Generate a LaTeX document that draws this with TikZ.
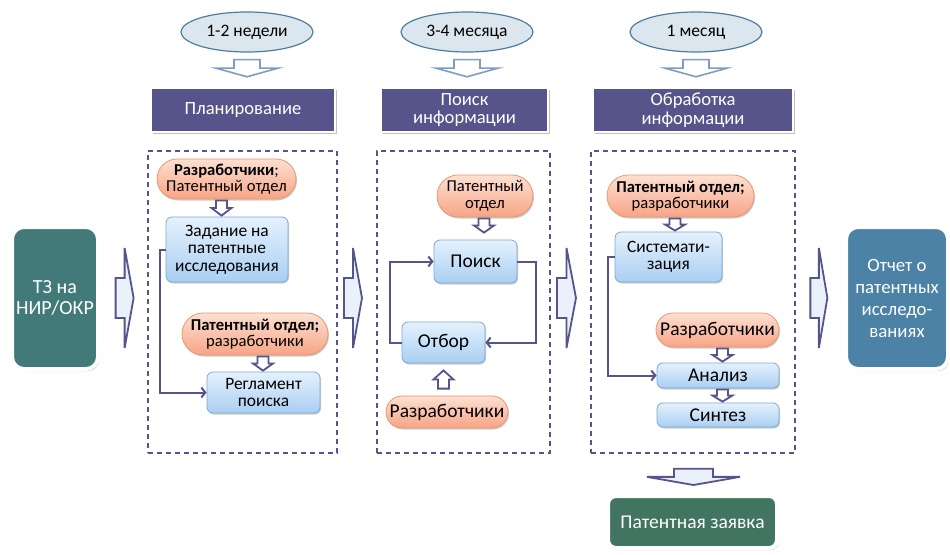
\documentclass[tikz,border=0pt]{standalone}
\usepackage{fontspec}
\setmainfont{Carlito}
\usetikzlibrary{calc,shapes.geometric,shadows,arrows.meta}
\definecolor{hdr}{HTML}{56548A}
\definecolor{ellfill}{HTML}{DCE6EE}
\definecolor{ellst}{HTML}{4E7E9C}
\definecolor{toparrc}{HTML}{7F9DC4}
\definecolor{bigfill}{HTML}{EAF1FB}
\definecolor{tzc}{HTML}{427A7A}
\definecolor{repc}{HTML}{4B82A6}
\definecolor{patc}{HTML}{417561}
\definecolor{ortop}{HTML}{FDE0D2}
\definecolor{orbot}{HTML}{F7A485}
\definecolor{orst}{HTML}{E8996F}
\definecolor{bltop}{HTML}{E5F1FD}
\definecolor{blbot}{HTML}{A9CFF2}
\definecolor{blst}{HTML}{7DA9D3}
\newcommand\myfA{\fontsize{17.4}{17.5}\selectfont}
\newcommand\myfB{\fontsize{16.6}{16.6}\selectfont}
\newcommand\myfC{\fontsize{18.6}{18.6}\selectfont}
\newcommand\myfD{\fontsize{18.8}{22}\selectfont}
\newcommand\myfE{\fontsize{19.5}{19.5}\selectfont}
\newcommand\myfF{\fontsize{17.5}{17.5}\selectfont}
% vertical hollow block arrow: style, from, to, shaft half, head half
\newcommand\varrow[5]{%
  \draw[#1] let \p1=(#2), \p2=(#3), \n1={0.5*(\y1+\y2)} in
   (\x1-#4,\y1) -- (\x1+#4,\y1) -- (\x1+#4,\n1) -- (\x1+#5,\n1) -- (\x1,\y2)
   -- (\x1-#5,\n1) -- (\x1-#4,\n1) -- cycle;}
% horizontal block arrow: style, from, to, shaft half, head half
\newcommand\harrow[5]{%
  \draw[#1] let \p1=(#2), \p2=(#3), \n1={0.5*(\x1+\x2)} in
   (\x1,\y1+#4) -- (\n1,\y1+#4) -- (\n1,\y1+#5) -- (\x2,\y1) -- (\n1,\y1-#5)
   -- (\n1,\y1-#4) -- (\x1,\y1-#4) -- cycle;}
\begin{document}
\begin{tikzpicture}[x=1pt,y=-1pt,
  ell/.style={ellipse, draw=ellst, fill=ellfill, line width=1.2, minimum width=132,
    minimum height=40, inner sep=0, font=\myfF},
  toparr/.style={draw=toparrc, fill=white, line width=1.6, line join=miter},
  hdrbox/.style={rectangle, fill=hdr, draw=white, line width=2.5, text=white, font=\myfC,
    align=center, minimum height=44, inner sep=0,
    drop shadow={shadow xshift=1.5pt, shadow yshift=-1.5pt, opacity=0.25, fill=black}},
  dbox/.style={draw=hdr, dash pattern=on 5pt off 4pt, line width=1.5, minimum height=302, inner sep=0},
  obox/.style={rectangle, rounded corners=20, draw=orst, line width=0.8, top color=ortop,
    bottom color=orbot, align=center, inner sep=0, font=\myfB,
    drop shadow={shadow xshift=1pt, shadow yshift=-1.5pt, opacity=0.2, fill=black}},
  bbox/.style={rectangle, rounded corners=6, draw=blst, line width=0.8, top color=bltop,
    bottom color=blbot, align=center, inner sep=0, font=\myfA,
    drop shadow={shadow xshift=1pt, shadow yshift=-1.5pt, opacity=0.2, fill=black}},
  conn/.style={draw=hdr, line width=2, -{Straight Barb[length=4pt,width=10pt]}},
  holarr/.style={draw=hdr, fill=white, line width=1.8, line join=miter},
  bigarr/.style={draw=hdr, fill=bigfill, line width=1.8, line join=miter},
  bigbox/.style={rectangle, rounded corners=12, draw=white, line width=4, text=white,
    font=\myfD, align=center, inner sep=0,
    drop shadow={shadow xshift=1.5pt, shadow yshift=-2pt, opacity=0.25, fill=black}}
]
\useasboundingbox[fill=white] (0,0) rectangle (950,554);

% durations
\node[ell] (e1) at (247,32) {1-2 недели};
\node[ell] (e2) at (467,32) {3-4 месяца};
\node[ell] (e3) at (696,32) {1 месяц};

% headers
\node[hdrbox, minimum width=184] (h1) at (243,110) {Планирование};
\node[hdrbox, minimum width=167] (h2) at (464.5,110) {Поиск\\информации};
\node[hdrbox, minimum width=200] (h3) at (693,110) {Обработка\\информации};

\varrow{toparr}{$(e1.south)+(0,7)$}{$(h1.north)+(4,-10)$}{13pt}{31pt}
\varrow{toparr}{$(e2.south)+(0,7)$}{$(h2.north)+(0,-10)$}{13pt}{31pt}
\varrow{toparr}{$(e3.south)+(0,7)$}{$(h3.north)+(0,-10)$}{13pt}{31pt}

% dashed frames
\node[dbox, minimum width=189] (box1) at (242.5,302) {};
\node[dbox, minimum width=173] (box2) at (463.5,302) {};
\node[dbox, minimum width=204] (box3) at (693,302) {};

% outer boxes
\node[bigbox, fill=tzc, minimum width=86, minimum height=142, font=\fontsize{20}{21.7}\selectfont]
  (tz) at (55,298) {ТЗ на\\НИР/ОКР};
\node[bigbox, fill=repc, minimum width=102, minimum height=142] (rep) at (897,298)
  {Отчет о\\патентных\\исследо-\\ваниях};
\node[bigbox, fill=patc, minimum width=169, minimum height=52, rounded corners=8, font=\myfE]
  (pat) at (692.5,522) {Патентная заявка};

% big arrows between stages
\coordinate (g1) at ($(tz.east)!0.5!(box1.west|-tz.east)$);
\coordinate (g2) at ($(box1.east|-tz.east)!0.5!(box2.west|-tz.east)$);
\coordinate (g3) at ($(box2.east|-tz.east)!0.5!(box3.west|-tz.east)$);
\coordinate (g4) at ($(box3.east|-tz.east)!0.5!(rep.west)$);
\harrow{bigarr}{$(g1)+(-8,0)$}{$(g1)+(10,0)$}{20pt}{50pt}
\harrow{bigarr}{$(g2)+(-13,0)$}{$(g2)+(5,0)$}{20pt}{50pt}
\harrow{bigarr}{$(g3)+(-13.5,0)$}{$(g3)+(5.5,0)$}{20pt}{50pt}
\harrow{bigarr}{$(g4)+(-9.5,0)$}{$(g4)+(7.5,0)$}{20pt}{50pt}

% column 1
\node[obox, minimum width=139, minimum height=40] (o1) at (226.5,179)
  {\textbf{Разработчики};\\Патентный отдел};
\node[bbox, minimum width=122, minimum height=65] (b1) at (227,249.5)
  {Задание на\\патентные\\исследования};
\node[obox, minimum width=146, minimum height=42, rounded corners=21] (o2) at (255,334)
  {\textbf{Патентный отдел;}\\разработчики};
\node[bbox, minimum width=113, minimum height=41] (b2) at (263.5,392.5)
  {Регламент\\поиска};
\varrow{holarr}{$(o1.south)+(-5,1)$}{$(b1.north)+(-6,-1)$}{5.5pt}{10pt}
\varrow{holarr}{$(o2.south)+(8,1)$}{$(b2.north)+(0,-1)$}{5.5pt}{10pt}
\draw[conn] (b1.west) -- ++(-6,0) |- (b2.west);

% column 2
\node[obox, minimum width=96, minimum height=42, rounded corners=21] (o3) at (485,196)
  {Патентный\\отдел};
\node[bbox, minimum width=83, minimum height=43, font=\myfE] (s1) at (475.5,261.5) {Поиск};
\node[bbox, minimum width=83, minimum height=41, font=\myfE] (s2) at (443.5,342.5) {Отбор};
\node[obox, minimum width=122, minimum height=32, rounded corners=16, font=\myfE] (o4)
  at (447,412) {Разработчики};
\varrow{holarr}{$(o3.south)+(-1,1)$}{$(s1.north)+(0,-7)$}{5.5pt}{10pt}
\varrow{holarr}{$(o4.north)+(-3.5,-7)$}{$(s2.south)+(0,7)$}{5.5pt}{10pt}
\draw[conn] (s2.west) -- ++(-12,0) |- (s1.west);
\draw[conn] (s1.east) -- ++(19,0) |- (s2.east);

% column 3
\node[obox, minimum width=147, minimum height=42, rounded corners=21] (o5) at (680.5,196)
  {\textbf{Патентный отдел;}\\разработчики};
\node[bbox, minimum width=107, minimum height=50] (c1) at (668.5,257) {Системати-\\зация};
\node[obox, minimum width=123, minimum height=34, rounded corners=17, font=\myfE] (o6)
  at (717.5,330) {Разработчики};
\node[bbox, minimum width=122, minimum height=25, font=\myfE] (a1) at (718,375.5) {Анализ};
\node[bbox, minimum width=122, minimum height=24, font=\myfE] (a2) at (718,415) {Синтез};
\varrow{holarr}{$(o5.south)+(-5.5,1)$}{$(c1.north)+(6.5,-1)$}{5.5pt}{10pt}
\varrow{holarr}{$(o6.south)+(5,1)$}{$(a1.north)+(4.5,-1)$}{5.5pt}{10pt}
\varrow{holarr}{$(a1.south)+(4.5,1)$}{$(a2.north)+(4.5,-1)$}{5.5pt}{10pt}
\draw[conn] (c1.west) -- ++(-7,0) |- (a1.west);

% result arrow
\varrow{bigarr}{$(box3.south)+(0.5,15)$}{$(pat.north)+(1,-9)$}{19.5pt}{46.5pt}
\end{tikzpicture}
\end{document}
